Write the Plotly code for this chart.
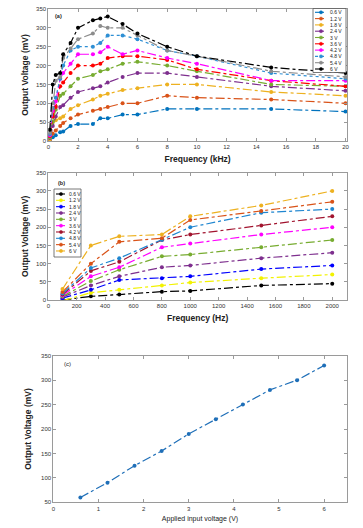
import plotly.graph_objects as go

W, H = 363, 528

# ---------------- data ----------------
volt_labels = ["0.6 V", "1.2 V", "1.8 V", "2.4 V", "3 V", "3.6 V", "4.2 V", "4.8 V", "5.4 V", "6 V"]

freq_khz = [0.1, 0.3, 0.5, 0.8, 1, 1.5, 2, 3, 3.5, 4, 5, 6, 8, 10, 15, 20]
a_06 = [0, 10, 15, 23, 25, 40, 45, 45, 60, 60, 70, 70, 85, 85, 85, 78]
a_12 = [0, 20, 28, 40, 48, 60, 70, 80, 85, 90, 100, 100, 120, 115, 110, 100]
a_18 = [5, 50, 55, 60, 65, 85, 95, 110, 120, 125, 135, 140, 150, 150, 130, 120]
a_24 = [8, 40, 65, 90, 95, 115, 130, 140, 145, 155, 170, 180, 180, 170, 145, 133]
a_30 = [10, 52, 83, 120, 125, 145, 165, 175, 185, 190, 205, 210, 200, 185, 150, 145]
a_36 = [13, 65, 90, 145, 155, 180, 200, 200, 205, 220, 225, 225, 215, 190, 160, 145]
a_42 = [15, 80, 105, 165, 180, 205, 230, 230, 235, 250, 230, 240, 220, 205, 160, 160]
a_48 = [18, 88, 115, 165, 200, 240, 250, 250, 260, 280, 280, 270, 240, 225, 180, 165]
a_54 = [22, 100, 160, 170, 220, 245, 270, 285, 305, 300, 300, 280, 240, 225, 185, 170]
a_60 = [30, 150, 175, 180, 230, 260, 300, 320, 325, 330, 310, 285, 250, 225, 195, 180]
series_a = [a_06, a_12, a_18, a_24, a_30, a_36, a_42, a_48, a_54, a_60]

freq_hz = [100, 300, 500, 800, 1000, 1500, 2000]
b_06 = [0, 10, 15, 23, 25, 40, 45]
b_12 = [-2, 20, 28, 40, 48, 60, 70]
b_18 = [5, 28, 55, 60, 65, 85, 95]
b_24 = [8, 40, 65, 90, 95, 115, 130]
b_30 = [10, 52, 83, 120, 125, 145, 165]
b_36 = [13, 65, 90, 145, 155, 180, 200]
b_42 = [15, 80, 105, 165, 180, 205, 230]
b_48 = [18, 88, 115, 165, 200, 240, 250]
b_54 = [22, 100, 160, 170, 220, 245, 270]
b_60 = [30, 150, 175, 180, 230, 260, 300]
series_b = [b_06, b_12, b_18, b_24, b_30, b_36, b_42, b_48, b_54, b_60]

input_v = [0.6, 1.2, 1.8, 2.4, 3, 3.6, 4.2, 4.8, 5.4, 6]
peak_out = [60, 90, 125, 155, 190, 220, 250, 280, 300, 330]

# ---------------- styles ----------------
colors_a = ["#0072BD", "#D95319", "#EDB120", "#7E2F8E", "#77AC30", "#FF0000",
            "#FF00FF", "#2E8FD4", "#8C8C8C", "#000000"]
dash_a = ["dashdot"] * 7 + ["dot", "dashdot", "dashdot"]
colors_b = ["#000000", "#F2F200", "#0000FF", "#7E2F8E", "#77AC30", "#FF00FF",
            "#A2142F", "#1F86D0", "#D95319", "#EDB120"]
color_c = "#1F6FB8"

FONT = "Liberation Sans, Arial, sans-serif"

fig = go.Figure()

for name, ys, c, d in zip(volt_labels, series_a, colors_a, dash_a):
    fig.add_trace(go.Scatter(x=freq_khz, y=ys, mode="lines+markers", name=name,
                             line=dict(color=c, width=1.2, dash=d),
                             marker=dict(color=c, size=4), showlegend=False,
                             xaxis="x", yaxis="y"))

for name, ys, c in zip(volt_labels, series_b, colors_b):
    fig.add_trace(go.Scatter(x=freq_hz, y=ys, mode="lines+markers", name=name,
                             line=dict(color=c, width=1.2, dash="dashdot"),
                             marker=dict(color=c, size=4), showlegend=False,
                             xaxis="x2", yaxis="y2"))

fig.add_trace(go.Scatter(x=input_v, y=peak_out, mode="lines+markers",
                         line=dict(color=color_c, width=1.2, dash="dashdot"),
                         marker=dict(color=color_c, size=4), showlegend=False,
                         xaxis="x3", yaxis="y3"))


def px(x):
    return x / W


def py(y):
    return 1 - y / H


tick_font = dict(family=FONT, size=6, color="#333333")
title_font = dict(family=FONT, size=8.5, color="#222222")
axis_common = dict(showgrid=False, zeroline=False, showline=True, mirror="ticks",
                   linecolor="#9A9A9A", linewidth=1, ticks="inside", ticklen=3,
                   tickcolor="#9A9A9A", tickfont=tick_font, automargin=False)

fig.update_layout(
    width=W, height=H, margin=dict(l=0, r=0, t=0, b=0),
    paper_bgcolor="white", plot_bgcolor="white",
    font=dict(family=FONT),
    xaxis=dict(domain=[px(48.3), px(347)], range=[0, 20.1], dtick=2, anchor="y",
               title=dict(text="<b>Frequency (kHz)</b>", font=title_font, standoff=6),
               **axis_common),
    yaxis=dict(domain=[py(141), py(9)], range=[0, 350], dtick=50, anchor="x",
               title=dict(text="<b>Output Voltage (mV)</b>", font=title_font, standoff=6),
               **axis_common),
    xaxis2=dict(domain=[px(48.3), px(347)], range=[0, 2104], dtick=200, anchor="y2",
                title=dict(text="<b>Frequency (Hz)</b>", font=title_font, standoff=6),
                **axis_common),
    yaxis2=dict(domain=[py(300), py(172.7)], range=[0, 350], dtick=50, anchor="x2",
                title=dict(text="<b>Output Voltage (mV)</b>", font=title_font, standoff=6),
                **axis_common),
    xaxis3=dict(domain=[px(53.3), px(346.7)], range=[0, 6.5], dtick=1, anchor="y3",
                title=dict(text="Applied input voltage (V)",
                           font=dict(family=FONT, size=7, color="#222222"), standoff=5),
                **axis_common),
    yaxis3=dict(domain=[py(502.3), py(355.7)], range=[50, 350], dtick=50, anchor="x3",
                title=dict(text="<b>Output Voltage (mV)</b>", font=title_font, standoff=8),
                **axis_common),
)

annotations = [
    dict(text="<b>(a)</b>", x=px(53), y=py(16), xref="paper", yref="paper",
         xanchor="left", yanchor="middle", showarrow=False,
         font=dict(family=FONT, size=5.5, color="#222")),
    dict(text="<b>(b)</b>", x=px(56), y=py(183), xref="paper", yref="paper",
         xanchor="left", yanchor="middle", showarrow=False,
         font=dict(family=FONT, size=5.5, color="#222")),
    dict(text="(c)", x=px(62), y=py(364), xref="paper", yref="paper",
         xanchor="left", yanchor="middle", showarrow=False,
         font=dict(family=FONT, size=6, color="#222")),
]
shapes = []


def add_legend(x0, x1, y0, y1, line_x0, line_x1, text_x, first_y, step, colors, dashes):
    shapes.append(dict(type="rect", xref="paper", yref="paper",
                       x0=px(x0), x1=px(x1), y0=py(y1), y1=py(y0),
                       line=dict(color="#555555", width=0.8), fillcolor="white"))
    for i, (lab, c, d) in enumerate(zip(volt_labels, colors, dashes)):
        yy = first_y + i * step
        shapes.append(dict(type="line", xref="paper", yref="paper",
                           x0=px(line_x0), x1=px(line_x1), y0=py(yy), y1=py(yy),
                           line=dict(color=c, width=1.1, dash=d)))
        mx = (line_x0 + line_x1) / 2
        shapes.append(dict(type="circle", xref="paper", yref="paper",
                           x0=px(mx - 1.6), x1=px(mx + 1.6), y0=py(yy + 1.6), y1=py(yy - 1.6),
                           line=dict(color=c, width=0.5), fillcolor=c))
        annotations.append(dict(text=lab, x=px(text_x), y=py(yy), xref="paper", yref="paper",
                                xanchor="left", yanchor="middle", showarrow=False,
                                font=dict(family=FONT, size=5, color="#222")))


add_legend(313, 346, 8.5, 72.5, 315, 327, 327.5, 12.3, 6.3, colors_a, dash_a)
add_legend(54, 81, 189, 257, 56, 66, 67, 194, 6.33, colors_b, ["dashdot"] * 10)

fig.update_layout(shapes=shapes, annotations=annotations)

# remove the browser's default 8px body margin so the figure fills the window exactly
fig.write_html("out.html", config={"displayModeBar": False},
               post_script="document.body.style.margin='0px';document.body.style.overflow='hidden';")
